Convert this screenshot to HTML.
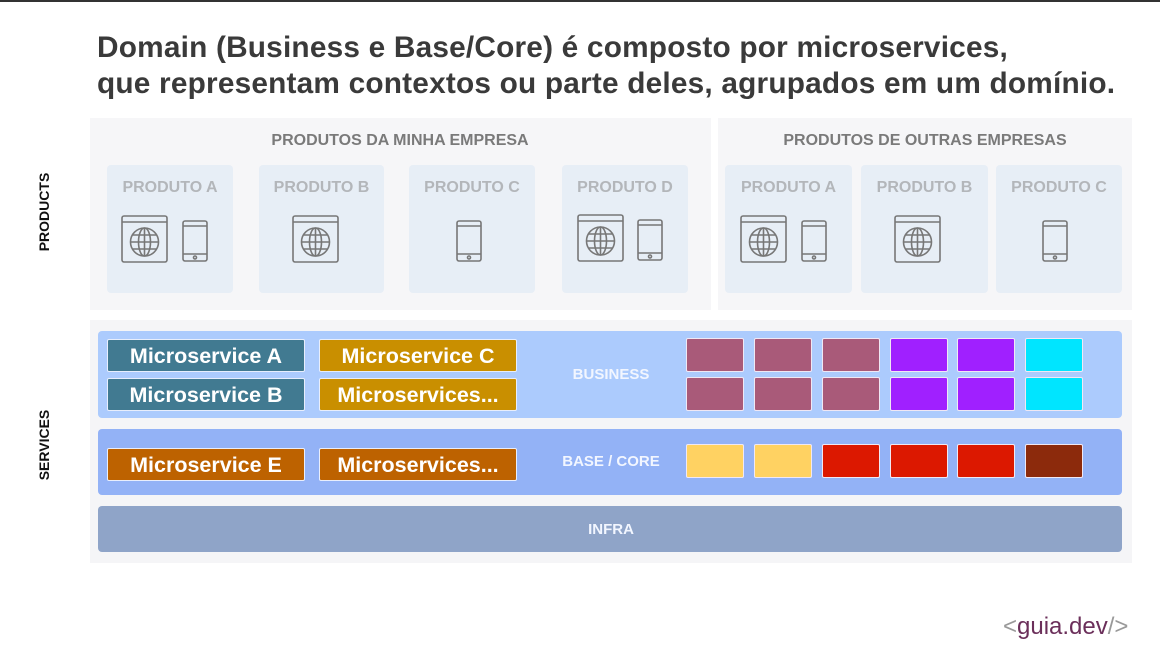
<!DOCTYPE html>
<html><head><meta charset="utf-8"><style>
*{margin:0;padding:0;box-sizing:border-box}
body{width:1160px;height:648px;background:#fff;position:relative;overflow:hidden;font-family:"Liberation Sans",sans-serif}
.a{position:absolute}
.title{left:97px;font-weight:bold;font-size:29.8px;color:#3a3a3a;white-space:nowrap;letter-spacing:0.2px}
.card{position:absolute;top:165px;height:128px;background:#e7eef6;border-radius:4px}
.card .l{position:absolute;top:14px;width:100%;text-align:center;font-weight:bold;font-size:16px;color:#b3b6ba}
.sec{font-weight:bold;font-size:16px;color:#7a7a7a;text-align:center}
.ms{position:absolute;width:198px;height:33px;color:#fff;font-weight:bold;font-size:21.5px;text-align:center;line-height:33px;border:1px solid #e8eefc;border-radius:2px}
.sq{position:absolute;width:58px;height:34px;border:1px solid #f0e8f4;border-radius:2px}
.band{position:absolute;left:98px;width:1024px;border-radius:4px}
.bl{position:absolute;color:#f2f6ff;font-weight:bold;font-size:15px;text-align:center;width:200px}
.vt{position:absolute;font-weight:bold;font-size:14px;color:#111;transform:rotate(-90deg);white-space:nowrap;transform-origin:center}
</style></head><body>
<div class="a" style="left:0;top:0;width:1160px;height:2px;background:#333"></div>
<div class="a title" style="top:31px">Domain (Business e Base/Core) é composto por microservices,</div>
<div class="a title" style="top:67px">que representam contextos ou parte deles, agrupados em um domínio.</div>

<div class="a" style="left:90px;top:118px;width:621px;height:192px;background:#f6f6f8"></div>
<div class="a" style="left:718px;top:118px;width:414px;height:192px;background:#f6f6f8"></div>
<div class="a sec" style="left:200px;top:132px;width:400px">PRODUTOS DA MINHA EMPRESA</div>
<div class="a sec" style="left:725px;top:132px;width:400px">PRODUTOS DE OUTRAS EMPRESAS</div>

<svg width="0" height="0" style="position:absolute"><defs>
<g id="br" fill="none" stroke="#777" stroke-width="1.6"><rect x="1" y="1" width="45" height="46" rx="2"/><line x1="1" y1="7" x2="46" y2="7"/><circle cx="23.5" cy="27" r="14"/><ellipse cx="23.5" cy="27" rx="6" ry="14"/><line x1="23.5" y1="13" x2="23.5" y2="41"/><line x1="9.5" y1="27" x2="37.5" y2="27"/><line x1="12" y1="20" x2="35" y2="20"/><line x1="12" y1="34" x2="35" y2="34"/></g>
<g id="ph" fill="none" stroke="#777" stroke-width="1.6"><rect x="1" y="1" width="24" height="40" rx="2"/><line x1="1" y1="6" x2="25" y2="6"/><line x1="1" y1="34" x2="25" y2="34"/><circle cx="13" cy="37.5" r="1.5"/></g>
</defs></svg>

<div class="card" style="left:107px;width:126px"><div class="l">PRODUTO A</div></div>
<div class="card" style="left:259px;width:125px"><div class="l">PRODUTO B</div></div>
<div class="card" style="left:409px;width:126px"><div class="l">PRODUTO C</div></div>
<div class="card" style="left:562px;width:126px"><div class="l">PRODUTO D</div></div>
<div class="card" style="left:725px;width:127px"><div class="l">PRODUTO A</div></div>
<div class="card" style="left:861px;width:127px"><div class="l">PRODUTO B</div></div>
<div class="card" style="left:996px;width:126px"><div class="l">PRODUTO C</div></div>

<svg class="a" style="left:0;top:0" width="1160" height="320">
<use href="#br" x="121" y="215"/><use href="#ph" x="182" y="220"/>
<use href="#br" x="292" y="215"/>
<use href="#ph" x="456" y="220"/>
<use href="#br" x="577" y="214"/><use href="#ph" x="637" y="219"/>
<use href="#br" x="740" y="215"/><use href="#ph" x="801" y="220"/>
<use href="#br" x="894" y="215"/>
<use href="#ph" x="1042" y="220"/>
</svg>

<div class="vt" style="left:4px;top:204px;width:80px;text-align:center">PRODUCTS</div>
<div class="vt" style="left:4px;top:437px;width:80px;text-align:center">SERVICES</div>

<div class="a" style="left:90px;top:320px;width:1042px;height:243px;background:#f5f5f7"></div>
<div class="band" style="top:331px;height:87px;background:#accbfd"></div>
<div class="band" style="top:429px;height:66px;background:#93b2f6"></div>
<div class="band" style="top:506px;height:46px;background:#8fa4c8"></div>
<div class="bl" style="left:511px;top:366px">BUSINESS</div>
<div class="bl" style="left:511px;top:453px">BASE / CORE</div>
<div class="bl" style="left:511px;top:521px">INFRA</div>

<div class="ms" style="left:107px;top:339px;background:#417a91">Microservice A</div>
<div class="ms" style="left:107px;top:378px;background:#417a91">Microservice B</div>
<div class="ms" style="left:319px;top:339px;background:#c98f00">Microservice C</div>
<div class="ms" style="left:319px;top:378px;background:#c98f00">Microservices...</div>
<div class="ms" style="left:107px;top:448px;background:#bd6200">Microservice E</div>
<div class="ms" style="left:319px;top:448px;background:#bd6200">Microservices...</div>

<div class="sq" style="left:686px;top:338px;background:#a95a79"></div>
<div class="sq" style="left:754px;top:338px;background:#a95a79"></div>
<div class="sq" style="left:822px;top:338px;background:#a95a79"></div>
<div class="sq" style="left:890px;top:338px;background:#a020ff"></div>
<div class="sq" style="left:957px;top:338px;background:#a020ff"></div>
<div class="sq" style="left:1025px;top:338px;background:#00e5ff"></div>
<div class="sq" style="left:686px;top:377px;background:#a95a79"></div>
<div class="sq" style="left:754px;top:377px;background:#a95a79"></div>
<div class="sq" style="left:822px;top:377px;background:#a95a79"></div>
<div class="sq" style="left:890px;top:377px;background:#a020ff"></div>
<div class="sq" style="left:957px;top:377px;background:#a020ff"></div>
<div class="sq" style="left:1025px;top:377px;background:#00e5ff"></div>
<div class="sq" style="left:686px;top:444px;background:#ffd262"></div>
<div class="sq" style="left:754px;top:444px;background:#ffd262"></div>
<div class="sq" style="left:822px;top:444px;background:#dc1800"></div>
<div class="sq" style="left:890px;top:444px;background:#dc1800"></div>
<div class="sq" style="left:957px;top:444px;background:#dc1800"></div>
<div class="sq" style="left:1025px;top:444px;background:#8c2a0c"></div>

<div class="a" style="left:1003px;top:613px;font-size:24px;white-space:nowrap;color:#6b2f5a"><span style="color:#999">&lt;</span>guia.dev<span style="color:#999">/&gt;</span></div>
</body></html>
